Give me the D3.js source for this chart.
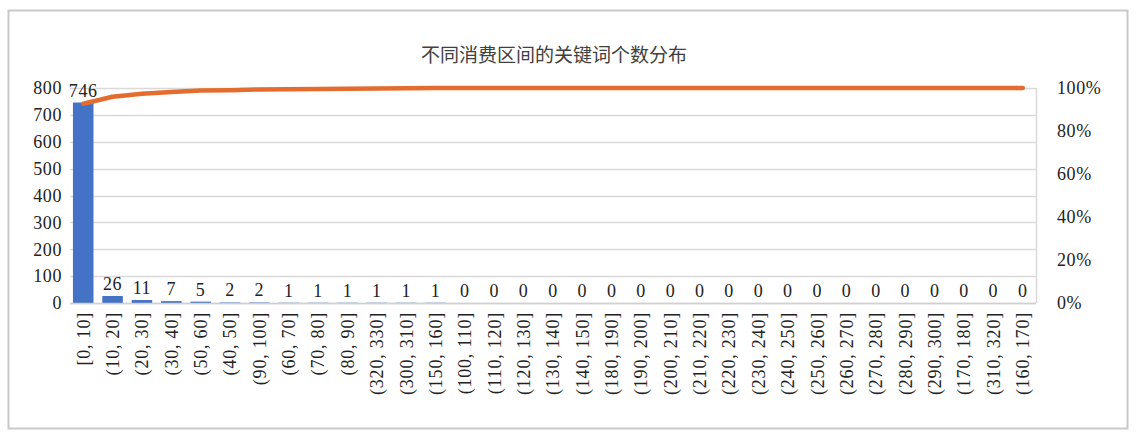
<!DOCTYPE html>
<html>
<head>
<meta charset="utf-8">
<script src="https://cdn.jsdelivr.net/npm/d3@7"></script>
<style>
  body { margin: 0; background: #fff; }
  svg { display: block; }
</style>
</head>
<body>
<div id="chart"></div>
<script>
const title = "不同消费区间的关键词个数分布";
const categories = ["[0, 10]", "(10, 20]", "(20, 30]", "(30, 40]", "(50, 60]", "(40, 50]", "(90, 100]",
  "(60, 70]", "(70, 80]", "(80, 90]", "(320, 330]", "(300, 310]", "(150, 160]", "(100, 110]",
  "(110, 120]", "(120, 130]", "(130, 140]", "(140, 150]", "(180, 190]", "(190, 200]", "(200, 210]",
  "(210, 220]", "(220, 230]", "(230, 240]", "(240, 250]", "(250, 260]", "(260, 270]", "(270, 280]",
  "(280, 290]", "(290, 300]", "(170, 180]", "(310, 320]", "(160, 170]"];
const counts = [746, 26, 11, 7, 5, 2, 2, 1, 1, 1, 1, 1, 1, 0, 0, 0, 0, 0, 0, 0, 0, 0, 0, 0, 0, 0, 0, 0, 0, 0, 0, 0, 0];
// cumulative share (%)
const cumPct = [92.7, 95.9, 97.3, 98.1, 98.8, 99.0, 99.3, 99.4, 99.5, 99.6, 99.8, 99.9, 100,
  100, 100, 100, 100, 100, 100, 100, 100, 100, 100, 100, 100, 100, 100, 100, 100, 100, 100, 100, 100];
const leftTicks = [0, 100, 200, 300, 400, 500, 600, 700, 800];
const rightTicks = [0, 20, 40, 60, 80, 100];

const W = 1138, H = 439;
const plotLeft = 70, plotRight = 1036, plotTop = 88, plotBottom = 303;
const serif = "'Liberation Serif', 'Times New Roman', serif";

var svg = d3.select("#chart").append("svg")
  .attr("width", W).attr("height", H);

// outer frame
svg.append("rect")
  .attr("x", 8.5).attr("y", 10.5)
  .attr("width", 1119).attr("height", 418)
  .attr("fill", "#fff").attr("stroke", "#c9c9c9").attr("stroke-width", 2);

var x = d3.scaleBand().domain(categories).range([plotLeft, plotRight]).paddingInner(0.3).paddingOuter(0.1);
var y = d3.scaleLinear().domain([0, 800]).range([plotBottom, plotTop]);
var y2 = d3.scaleLinear().domain([0, 100]).range([plotBottom, plotTop]);

// title
svg.append("text")
  .attr("x", 554).attr("y", 62)
  .attr("text-anchor", "middle")
  .attr("font-family", "'Noto Sans CJK SC', sans-serif")
  .attr("font-size", 19)
  .attr("fill", "#404040")
  .text(title);

// gridlines
svg.append("g").selectAll("line")
  .data(leftTicks)
  .join("line")
  .attr("x1", plotLeft).attr("x2", plotRight)
  .attr("y1", d => Math.round(y(d)) + 0.5).attr("y2", d => Math.round(y(d)) + 0.5)
  .attr("stroke", "#d9d9d9").attr("stroke-width", 1.5);
svg.append("line")
  .attr("x1", plotRight + 0.5).attr("x2", plotRight + 0.5)
  .attr("y1", plotTop).attr("y2", plotBottom)
  .attr("stroke", "#d9d9d9").attr("stroke-width", 1.5);

// left axis
var yAxis = d3.axisLeft(y).tickValues(leftTicks).tickSize(0).tickPadding(8);
var gy = svg.append("g").attr("transform", "translate(" + plotLeft + ",0)").call(yAxis);
gy.select(".domain").remove();
gy.selectAll("text").attr("font-family", serif).attr("font-size", 18).attr("fill", "#222")
  .attr("letter-spacing", 0.6);

// right axis
var yAxis2 = d3.axisRight(y2).tickValues(rightTicks).tickSize(0).tickPadding(21)
  .tickFormat(d => d + "%");
var gy2 = svg.append("g").attr("transform", "translate(" + plotRight + ",0)").call(yAxis2);
gy2.select(".domain").remove();
gy2.selectAll("text").attr("font-family", serif).attr("font-size", 18).attr("fill", "#222")
  .attr("letter-spacing", 0.6);

// bars
svg.append("g").selectAll("rect")
  .data(counts)
  .join("rect")
  .attr("x", (d, i) => x(categories[i]))
  .attr("y", d => y(d))
  .attr("width", x.bandwidth())
  .attr("height", d => plotBottom - y(d))
  .attr("fill", "#4472c4");

// bottom axis line
svg.append("line")
  .attr("x1", plotLeft).attr("x2", plotRight)
  .attr("y1", plotBottom + 0.5).attr("y2", plotBottom + 0.5)
  .attr("stroke", "#d0d0d0").attr("stroke-width", 1.5);

// x labels
var xAxis = d3.axisBottom(x).tickSize(0).tickPadding(0);
var gx = svg.append("g").attr("transform", "translate(0," + plotBottom + ")").call(xAxis);
gx.select(".domain").remove();
gx.selectAll("text")
  .attr("font-family", serif).attr("font-size", 18).attr("fill", "#222")
  .attr("letter-spacing", 0.8)
  .attr("text-anchor", "end")
  .attr("dy", "0.35em")
  .attr("transform", "translate(0,9) rotate(-90)");

// cumulative line
var line = d3.line()
  .x((d, i) => x(categories[i]) + x.bandwidth() / 2)
  .y(d => y2(d));
svg.append("path")
  .datum(cumPct)
  .attr("d", line)
  .attr("fill", "none")
  .attr("stroke", "#e46c2e")
  .attr("stroke-width", 4.5)
  .attr("stroke-linecap", "round")
  .attr("stroke-linejoin", "round");

// data labels
svg.append("g").selectAll("text")
  .data(counts)
  .join("text")
  .attr("x", (d, i) => x(categories[i]) + x.bandwidth() / 2)
  .attr("y", d => y(d) - 6)
  .attr("text-anchor", "middle")
  .attr("font-family", serif).attr("font-size", 18).attr("fill", "#222")
  .attr("letter-spacing", 0.6)
  .text(d => d);
</script>
</body>
</html>
